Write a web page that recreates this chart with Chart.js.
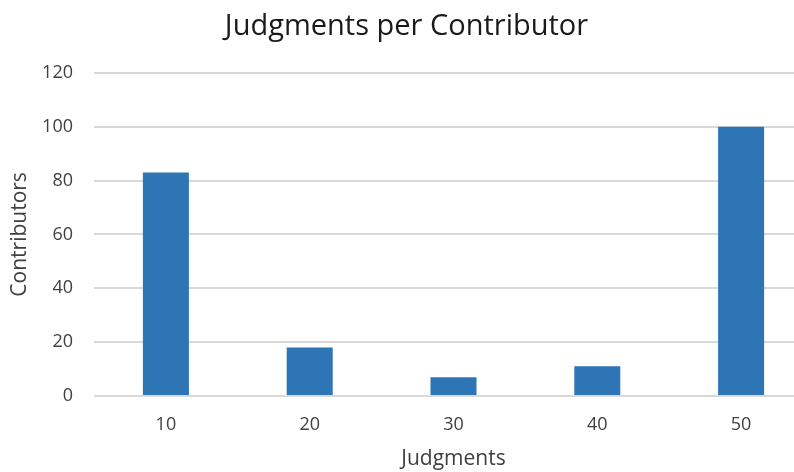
<!DOCTYPE html>
<html>
<head>
<meta charset="utf-8">
<script src="https://cdn.jsdelivr.net/npm/chart.js@4"></script>
<style>
  html, body { margin: 0; padding: 0; background: #fff; overflow: hidden; }
  #wrap { width: 794px; height: 472px; overflow: hidden; }
</style>
</head>
<body>
<!-- el grafico original esta recortado por la derecha, por eso el canvas es mas ancho -->
<div id="wrap"><canvas id="myChart" width="813" height="472"></canvas></div>
<script>
// datos
const judgments = ["10", "20", "30", "40", "50"];
const contributors = [83, 18, 7, 11, 100];
const yTicks = [0, 20, 40, 60, 80, 100, 120];

const ctx = document.getElementById("myChart");
const textColor = "#404040";
const font = "'Open Sans', 'Liberation Sans', sans-serif";

let chart = new Chart(ctx, {
  type: "bar",
  data: {
    labels: judgments,
    datasets: [
      {
        label: "Contributors",
        data: contributors,
        backgroundColor: "#2E75B6",
        borderWidth: 0,
        barPercentage: 0.32,
        categoryPercentage: 1,
      },
    ],
  },
  options: {
    responsive: false,
    animation: false,
    layout: { padding: 0 },
    plugins: {
      legend: { display: false },
      tooltip: { enabled: false },
      title: {
        display: true,
        text: "Judgments per Contributor",
        color: "#1a1a1a",
        font: { family: font, size: 29, weight: "normal" },
        padding: { top: 9, bottom: 29 },
      },
    },
    scales: {
      x: {
        afterFit: (scale) => {
          scale.height = 76;
        },
        grid: { display: false },
        border: { display: false },
        ticks: { color: textColor, font: { family: font, size: 18 }, padding: 10 },
        title: {
          display: true,
          text: "Judgments",
          color: textColor,
          font: { family: font, size: 21 },
          padding: { top: 0, bottom: 0 },
        },
      },
      y: {
        min: 0,
        max: 120,
        afterBuildTicks: (scale) => {
          scale.ticks = yTicks.map((v) => ({ value: v }));
        },
        afterFit: (scale) => {
          scale.width = 94;
        },
        grid: { color: "#d9d9d9", lineWidth: 2, drawTicks: false },
        border: { display: false },
        ticks: { color: textColor, font: { family: font, size: 18 }, padding: 21 },
        title: {
          display: true,
          text: "Contributors",
          color: textColor,
          font: { family: font, size: 21 },
          padding: { top: 7, bottom: 0 },
        },
      },
    },
  },
});
</script>
</body>
</html>
